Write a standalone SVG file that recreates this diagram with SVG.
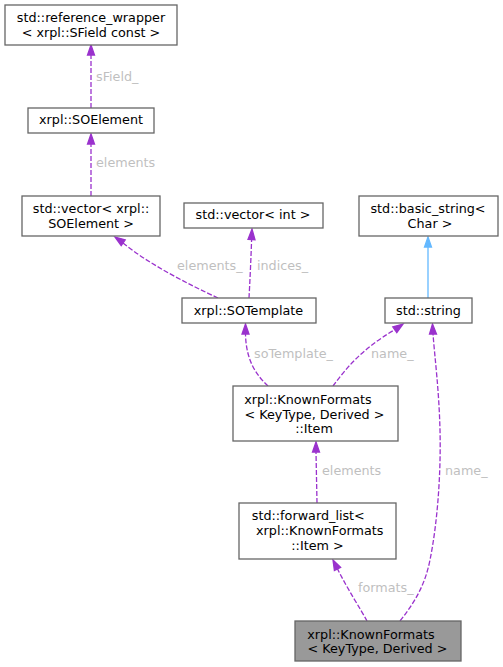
<svg xmlns="http://www.w3.org/2000/svg" width="503" height="667" viewBox="0 0 503 667">
<style>
.n rect{fill:#ffffff;stroke:#666666;stroke-width:1.3}
.n.g rect{fill:#999999}
text{font-family:"DejaVu Sans",sans-serif;font-size:12.75px;fill:#000000;text-anchor:middle}
.e path{fill:none;stroke:#9a32cd;stroke-width:1.3;stroke-dasharray:5,2}
.e polygon{fill:#9a32cd;stroke:#9a32cd;stroke-width:1.3}
.e path.inh{stroke:#63b8ff;stroke-dasharray:none}
.e polygon.inh{fill:#63b8ff;stroke:#63b8ff}
.e text{fill:#bfbfbf;text-anchor:start}
</style>
<rect width="503" height="667" fill="#ffffff"/>
<g id="edges" class="e">
<path d="M91,108 L91,55"/>
<polygon points="87.5,55 94.5,55 91,45"/>
<text x="96" y="80.5">sField_</text>
<path d="M91,196 L91,144"/>
<polygon points="87.5,144 94.5,144 91,134"/>
<text x="96" y="166.5">elements</text>
<path d="M218,298 C190,285 150,265 123,243"/>
<polygon points="125.2,239.8 121.2,245.6 115,237"/>
<text x="177" y="270">elements_</text>
<path d="M249,298 C250,280 251,258 251.6,239.5"/>
<polygon points="248,239.3 255,239.7 252,229"/>
<text x="257" y="270">indices_</text>
<path d="M268,386 C256,375 246,360 245.5,334"/>
<polygon points="242,334 249,334 245.5,324"/>
<text x="254" y="358">soTemplate_</text>
<path d="M333,386 C345,370 360,350 394.8,329.7"/>
<polygon points="396.8,332.6 392.8,326.8 403,324"/>
<text x="371" y="358">name_</text>
<path class="inh" d="M428,298 L428,247"/>
<polygon class="inh" points="424.5,247 431.5,247 428,237"/>
<path d="M400,621 C415,602 425,585 430,560 C438,520 441,470 440,430 C439,390 435,360 433,334"/>
<polygon points="429.5,334 436.5,334 432.5,324"/>
<text x="445" y="475">name_</text>
<path d="M317,503 L316,452"/>
<polygon points="312.5,452 319.5,452 316,442"/>
<text x="322" y="475">elements</text>
<path d="M367,621 C360,608 348,590 337.5,568.9"/>
<polygon points="340.6,567.3 334.4,570.5 333,560"/>
<text x="358" y="592">formats_</text>
</g>
<g id="node_refwrap" class="n"><rect x="5" y="5" width="172" height="40"/><text x="91" y="21.5">std::reference_wrapper</text><text x="91" y="36.5">&lt; xrpl::SField const &gt;</text></g>
<g id="node_soelement" class="n"><rect x="28" y="108" width="126" height="25"/><text x="91" y="124">xrpl::SOElement</text></g>
<g id="node_vec_soelement" class="n"><rect x="22" y="196" width="138" height="40"/><text x="91" y="212.5">std::vector&lt; xrpl::</text><text x="91" y="227.5">SOElement &gt;</text></g>
<g id="node_vec_int" class="n"><rect x="184" y="203" width="139" height="25"/><text x="253" y="219">std::vector&lt; int &gt;</text></g>
<g id="node_basic_string" class="n"><rect x="359" y="196" width="139" height="40"/><text x="428" y="212.5">std::basic_string&lt;</text><text x="430" y="227.5">Char &gt;</text></g>
<g id="node_sotemplate" class="n"><rect x="182" y="298" width="134" height="25"/><text x="248.5" y="314.5">xrpl::SOTemplate</text></g>
<g id="node_string" class="n"><rect x="385" y="298" width="87" height="25"/><text x="428.5" y="314.5">std::string</text></g>
<g id="node_item" class="n"><rect x="233" y="386" width="165" height="55"/><text x="308" y="404">xrpl::KnownFormats</text><text x="314.5" y="418.5">&lt; KeyType, Derived &gt;</text><text x="314" y="433">::Item</text></g>
<g id="node_fwdlist" class="n"><rect x="239" y="503" width="157" height="56"/><text x="308.3" y="520">std::forward_list&lt;</text><text x="319.7" y="535">xrpl::KnownFormats</text><text x="317.5" y="549.5">::Item &gt;</text></g>
<g id="node_knownformats" class="n g"><rect x="295" y="621" width="166" height="40"/><text x="371" y="638.5">xrpl::KnownFormats</text><text x="377.5" y="653">&lt; KeyType, Derived &gt;</text></g>
</svg>
